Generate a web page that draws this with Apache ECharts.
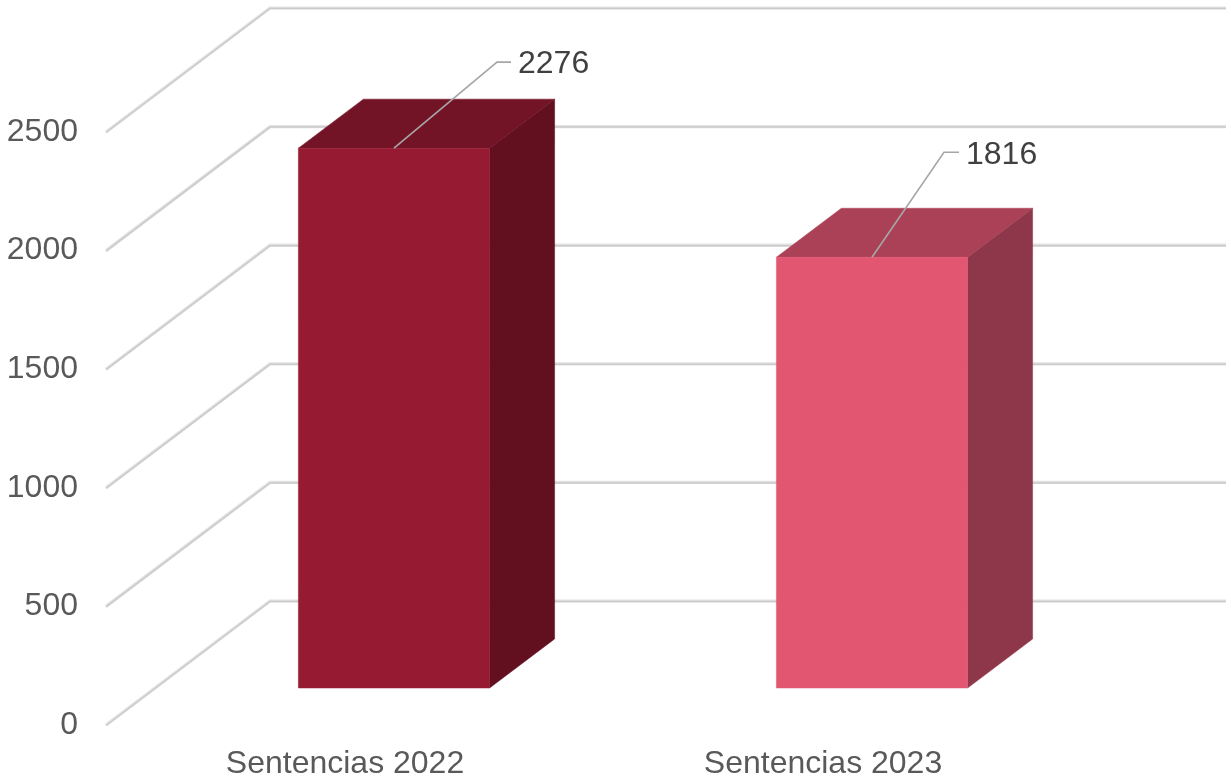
<!DOCTYPE html>
<html>
<head>
<meta charset="utf-8">
<style>html,body{margin:0;padding:0;background:#fff}#c{width:1231px;height:779px}</style>
<script src="https://cdn.jsdelivr.net/npm/echarts@6/dist/echarts.min.js"></script>
</head>
<body>
<div id="c"></div>
<script>
const categories = ['Sentencias 2022', 'Sentencias 2023'];
const sentencias = [2276, 1816];
const yTicks = [0, 500, 1000, 1500, 2000, 2500];

const faceColors = [
  { front: '#951A32', top: '#731326', side: '#620F1F' },
  { front: '#E25672', top: '#AB4157', side: '#8F374A' }
];
const wallDepth = [164, -124];
const barInset = [49, -37];
const barDepth = [65, -49];
const barWidthRatio = 0.4;
const leaderOffsets = [[103, -86, 14], [72, -105, 15]];
const FONT = '"Liberation Sans", Arial, sans-serif';

function wallItem(params, api) {
  const cs = params.coordSys;
  const p = api.coord([0, api.value(1)]);
  const x0 = cs.x, y0 = p[1];
  const bx = x0 + wallDepth[0], by = y0 + wallDepth[1];
  const pts = [[x0, y0], [bx, by], [bx + cs.width, by]];
  return {
    type: 'group',
    children: [
      { type: 'polyline', shape: { points: pts }, style: { fill: null, stroke: '#e2e2e2', lineWidth: 3.2, lineJoin: 'miter' } },
      { type: 'polyline', shape: { points: pts.map(q => [q[0], q[1] + 0.5]) }, style: { fill: null, stroke: '#cbcbcb', lineWidth: 1.5, lineJoin: 'miter' } }
    ]
  };
}

function barItem(params, api) {
  const i = api.value(0);
  const band = api.size([1, 0])[0];
  const w = band * barWidthRatio;
  const c0 = api.coord([i, 0]);
  const cv = api.coord([i, api.value(1)]);
  const l = c0[0] - w / 2 + barInset[0], r = l + w;
  const b = c0[1] + barInset[1], t = cv[1] + barInset[1];
  const dx = barDepth[0], dy = barDepth[1];
  const col = faceColors[i];
  const cx = (l + r) / 2;
  const o = leaderOffsets[i];
  return {
    type: 'group',
    children: [
      { type: 'polygon', shape: { points: [[r, t], [r + dx, t + dy], [r + dx, b + dy], [r, b]] }, style: { fill: col.side, stroke: col.side, lineWidth: 0.5 } },
      { type: 'polygon', shape: { points: [[l, t], [l + dx, t + dy], [r + dx, t + dy], [r, t]] }, style: { fill: col.top, stroke: col.top, lineWidth: 0.5 } },
      { type: 'rect', shape: { x: l, y: t, width: w, height: b - t }, style: { fill: col.front, stroke: col.front, lineWidth: 0.5 } },
      { type: 'polyline', shape: { points: [[cx, t], [cx + o[0], t + o[1]], [cx + o[0] + o[2], t + o[1]]] }, style: { fill: null, stroke: '#a6a6a6', lineWidth: 1.6 } },
      { type: 'text', style: { x: cx + o[0] + o[2] + 7, y: t + o[1] + 2.5, text: String(api.value(1)), fill: '#404040', font: '32px ' + FONT, align: 'left', verticalAlign: 'middle' } }
    ]
  };
}

const chart = echarts.init(document.getElementById('c'), null, { renderer: 'canvas' });
chart.setOption({
  animation: false,
  backgroundColor: '#ffffff',
  grid: { left: 106, top: 132, width: 956, bottom: 54, containLabel: false, outerBoundsMode: 'none' },
  xAxis: {
    type: 'category',
    data: categories,
    axisLine: { show: false },
    axisTick: { show: false },
    splitLine: { show: false },
    axisLabel: { color: '#595959', fontFamily: FONT, fontSize: 32, margin: 23 }
  },
  yAxis: {
    type: 'value',
    min: 0,
    max: yTicks[yTicks.length - 1],
    interval: 500,
    axisLine: { show: false },
    axisTick: { show: false },
    splitLine: { show: false },
    axisLabel: { color: '#595959', fontFamily: FONT, fontSize: 32, margin: 28, padding: [9, 0, 0, 0], formatter: v => String(v) }
  },
  series: [
    { type: 'custom', name: 'walls', silent: true, clip: false, z: 1, renderItem: wallItem,
      encode: { x: 0, y: 1 }, data: yTicks.map(v => [0, v]) },
    { type: 'custom', name: 'Sentencias', silent: true, clip: false, z: 2, renderItem: barItem,
      encode: { x: 0, y: 1 }, data: sentencias.map((v, i) => [i, v]) }
  ]
});
</script>
</body>
</html>
